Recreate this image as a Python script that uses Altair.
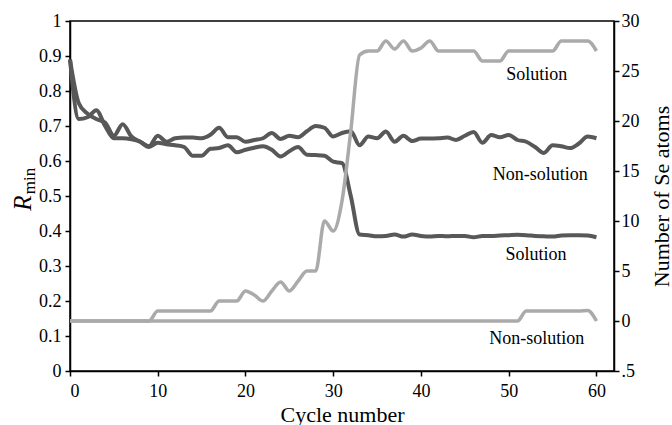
import altair as alt
import pandas as pd

cycles = list(range(61))

rmin_nonsolution = [
    0.89, 0.72, 0.725, 0.745, 0.70, 0.665, 0.665, 0.662, 0.655, 0.642,
    0.672, 0.655, 0.665, 0.667, 0.667, 0.665, 0.675, 0.695, 0.668, 0.668,
    0.655, 0.66, 0.665, 0.68, 0.663, 0.672, 0.668, 0.685, 0.70, 0.695,
    0.67, 0.68, 0.685, 0.645, 0.67, 0.665, 0.684, 0.655, 0.672, 0.657,
    0.664, 0.664, 0.665, 0.667, 0.66, 0.672, 0.683, 0.652, 0.674, 0.668,
    0.674, 0.66, 0.655, 0.64, 0.623, 0.645, 0.642, 0.637, 0.65, 0.67,
    0.665,
]

rmin_solution = [
    0.89, 0.765, 0.735, 0.72, 0.71, 0.672, 0.705, 0.67, 0.655, 0.64,
    0.652, 0.648, 0.645, 0.64, 0.615, 0.615, 0.635, 0.637, 0.645, 0.625,
    0.632, 0.638, 0.642, 0.632, 0.613, 0.628, 0.64, 0.618, 0.617, 0.615,
    0.598, 0.594, 0.50, 0.39, 0.388, 0.385, 0.386, 0.39, 0.384, 0.39,
    0.386, 0.384, 0.386, 0.385, 0.386, 0.386, 0.382, 0.386, 0.386, 0.387,
    0.388, 0.389, 0.388, 0.386, 0.385, 0.384, 0.387, 0.388, 0.388, 0.387,
    0.382,
]

se_solution = [
    0, 0, 0, 0, 0, 0, 0, 0, 0, 0,
    1, 1, 1, 1, 1, 1, 1, 2, 2, 2,
    3, 2.6, 2, 3, 3.9, 3, 4, 5, 5, 10,
    9, 12, 19, 26.6, 27, 27, 28, 27.2, 28, 27,
    27.3, 28, 27, 27, 27, 27, 27, 26, 26, 26,
    27, 27, 27, 27, 27, 27, 28, 28, 28, 28,
    27,
]

se_nonsolution = [0] * 52 + [1, 1, 1, 1, 1, 1, 1, 1.05, 0]

ann_text = ["Solution", "Non-solution", "Solution", "Non-solution"]
ann_cycle = [53.2, 53.6, 53.1, 53.2]
ann_rmin = [0.831, 0.546, 0.317, 0.078]

x_ticks = [0, 10, 20, 30, 40, 50, 60]
left_ticks = [0, 0.1, 0.2, 0.3, 0.4, 0.5, 0.6, 0.7, 0.8, 0.9, 1]
right_ticks = [-5, 0, 5, 10, 15, 20, 25, 30]

FONT = "Liberation Serif"
DARK = "#585858"
LIGHT = "#aaaaaa"

left_df = pd.DataFrame({
    "cycle": cycles * 2,
    "rmin": rmin_nonsolution + rmin_solution,
    "series": ["Non-solution"] * 61 + ["Solution"] * 61,
})
right_df = pd.DataFrame({
    "cycle": cycles * 2,
    "se": se_solution + se_nonsolution,
    "series": ["Solution"] * 61 + ["Non-solution"] * 61,
})
ann_df = pd.DataFrame({"text": ann_text, "cycle": ann_cycle, "rmin": ann_rmin})

x_scale = alt.Scale(domain=[0, 62], nice=False, zero=False)
x_axis = alt.Axis(
    values=x_ticks, title="Cycle number", grid=False,
    labelFont=FONT, labelFontSize=18, labelColor="black",
    titleFont=FONT, titleFontSize=22, titleFontWeight="normal", titleColor="black",
    tickSize=5, labelPadding=6, titlePadding=4,
    domainColor="black", tickColor="black", domainWidth=1.5, tickWidth=1.5,
)


def x_enc():
    return alt.X("cycle:Q", scale=x_scale, axis=x_axis)


left_lines = alt.Chart(left_df).mark_line(
    color=DARK, strokeWidth=4, interpolate="monotone"
).encode(
    x=x_enc(),
    y=alt.Y(
        "rmin:Q",
        scale=alt.Scale(domain=[0, 1], nice=False),
        axis=alt.Axis(
            orient="left", values=left_ticks, format="~g", title=None, grid=False,
            labelFont=FONT, labelFontSize=18, labelColor="black",
            tickSize=5, labelPadding=4,
            domainColor="black", tickColor="black", domainWidth=1.5, tickWidth=1.5,
        ),
    ),
    detail="series:N",
)

right_lines = alt.Chart(right_df).mark_line(
    color=LIGHT, strokeWidth=3.5, interpolate="monotone"
).encode(
    x=x_enc(),
    y=alt.Y(
        "se:Q",
        scale=alt.Scale(domain=[-5, 30], nice=False, zero=False),
        axis=alt.Axis(
            orient="right", values=right_ticks, title="Number of Se atoms", grid=False,
            labelExpr="datum.value == -5 ? '.5' : datum.label",
            labelFont=FONT, labelFontSize=18, labelColor="black",
            titleFont=FONT, titleFontSize=22, titleFontWeight="normal", titleColor="black",
            titleAngle=270, titleBaseline="top", titlePadding=12,
            tickSize=5, labelPadding=2,
            domainColor="black", tickColor="black", domainWidth=1.5, tickWidth=1.5,
        ),
    ),
    detail="series:N",
)

ann = alt.Chart(ann_df).mark_text(
    font=FONT, fontSize=18, color="black", align="center", baseline="alphabetic"
).encode(
    x=x_enc(),
    y=alt.Y("rmin:Q", scale=alt.Scale(domain=[0, 1], nice=False), axis=None),
    text="text:N",
)

title_df = pd.DataFrame({"t": ["R"]})
r_title = alt.Chart(title_df).mark_text(
    font=FONT, fontSize=25, fontStyle="italic", color="black", angle=270,
    align="center", baseline="middle", text="R",
).encode(x=alt.value(-47), y=alt.value(182))
min_title = alt.Chart(title_df).mark_text(
    font=FONT, fontSize=17, color="black", angle=270,
    align="center", baseline="middle", text="min",
).encode(x=alt.value(-40), y=alt.value(160))

chart = alt.layer(
    left_lines, right_lines, ann, r_title, min_title
).resolve_scale(y="independent").properties(
    width=544, height=350,
    autosize=alt.AutoSizeParams(type="none"),
    padding={"left": 70, "top": 21, "right": 58, "bottom": 54},
    background="white",
).configure_view(stroke="black", strokeWidth=1.5)

chart.save("out.html", embed_options={"renderer": "svg", "actions": False})
